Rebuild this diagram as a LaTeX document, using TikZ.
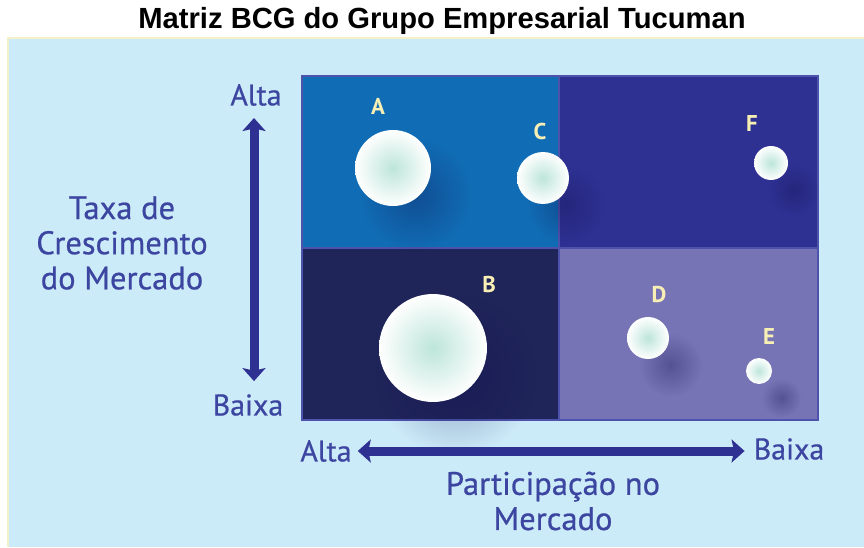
\documentclass[tikz,border=0pt]{standalone}
\usepackage{fontspec}
\setmainfont{PT Sans}
\newfontfamily\axisfont[FakeBold=0.6]{PT Sans}
\newfontfamily\titlefont{Liberation Sans}
\usetikzlibrary{positioning, arrows.meta, shadows, fadings}
\definecolor{skyback}{HTML}{CCEBF9}
\definecolor{paleedge}{HTML}{F4F0C8}
\definecolor{quadstar}{HTML}{106DB5}
\definecolor{quadquery}{HTML}{2E3192}
\definecolor{quadcow}{HTML}{1F2459}
\definecolor{quaddog}{HTML}{7774B6}
\definecolor{gridline}{HTML}{4D52AA}
\definecolor{axisblue}{HTML}{3C45A0}
\definecolor{arrowblue}{HTML}{2E3192}
\definecolor{bubblemint}{HTML}{BDE5DA}
\definecolor{letteryellow}{HTML}{F7EFB4}
\definecolor{shadenavy}{HTML}{120F50}
\tikzfading[name=softedge, inner color=transparent!45, outer color=transparent!100]
\tikzset{
    bubble/.style={circle, inner sep=0pt, minimum size=#1, inner color=bubblemint, outer color=white,
        circular drop shadow={shadow xshift=0.3cm, shadow yshift=-0.36cm, shadow scale=1.5,
            fill=shadenavy, opacity=0.6, path fading=softedge}}, % bolha com sombra difusa
    letter/.style={text=letteryellow, font=\bfseries\fontsize{13}{15}\selectfont},
    axislabel/.style={text=axisblue, font=\axisfont\fontsize{17}{20}\selectfont},
    axistitle/.style={text=axisblue, align=center, font=\axisfont\fontsize{18.5}{20}\selectfont},
    titletext/.style={font=\titlefont\bfseries\fontsize{16.6}{19}\selectfont},
    bigarrow/.style={draw=arrowblue, line width=0.18cm,
        {Stealth[length=0.26cm, width=0.46cm, inset=0.05cm]}-{Stealth[length=0.26cm, width=0.46cm, inset=0.05cm]}},
}
\begin{document}
\begin{tikzpicture}[x=0.02cm, y=-0.02cm]
    \useasboundingbox (0,0) rectangle (864,547);
    % fundo
    \fill[skyback] (8,38) rectangle (864,547);
    \draw[paleedge, line width=0.6pt] (8,547) -- (8,38) -- (864,38);
    \node[titletext] (title) at (442,21) {Matriz BCG do Grupo Empresarial Tucuman};

    % quadrantes
    \fill[quadstar] (302,76) rectangle (559,248);
    \fill[quadquery] (559,76) rectangle (818,248);
    \fill[quadcow] (302,248) rectangle (559,420);
    \fill[quaddog] (559,248) rectangle (818,420);
    \draw[gridline, line width=1.1pt] (302,76) rectangle (818,420)
        (302,248) -- (818,248) (559,76) -- (559,420);

    % bolhas
    \node[bubble=1.52cm] (bubA) at (393,168) {};
    \node[bubble=1.04cm] (bubC) at (543,178) {};
    \node[bubble=0.68cm] (bubF) at (771,163) {};
    \node[bubble=2.16cm] (bubB) at (433,348) {};
    \node[bubble=0.84cm] (bubD) at (648,338) {};
    \node[bubble=0.52cm] (bubE) at (759,371) {};
    \node[letter] (labA) at (378,106) {A};
    \node[letter] (labC) at (540,132) {C};
    \node[letter] (labF) at (752,124) {F};
    \node[letter] (labB) at (489,285) {B};
    \node[letter] (labD) at (659,295) {D};
    \node[letter] (labE) at (769,337) {E};

    % eixo vertical
    \node[axislabel] (altaV) at (256,95) {Alta};
    \node[axislabel] (baixaV) at (248,405) {Baixa};
    \node[axistitle] (taxa) at (122,243) {Taxa de\\Crescimento\\do Mercado};
    \draw[bigarrow, shorten <=0.12cm, shorten >=0.14cm] ([xshift=-0.04cm]altaV.south) -- ([xshift=-0.04cm]altaV.south |- baixaV.north);

    % eixo horizontal
    \node[axislabel] (altaH) at (326,451) {Alta};
    \node[axislabel] (baixaH) at (789,449) {Baixa};
    \node[axistitle] (part) at (553,501) {Participação no\\Mercado};
    \draw[bigarrow, shorten <=0.0cm, shorten >=0.06cm] (altaH.east) -- (altaH.east -| baixaH.west);
\end{tikzpicture}
\end{document}
